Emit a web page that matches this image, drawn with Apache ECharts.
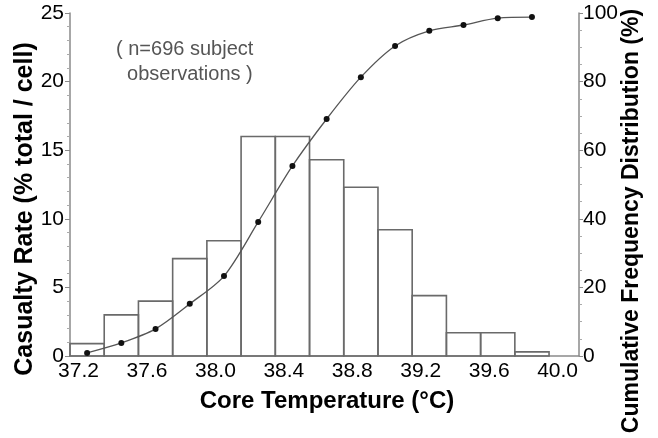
<!DOCTYPE html>
<html>
<head>
<meta charset="utf-8">
<script src="https://cdn.jsdelivr.net/npm/echarts@6/dist/echarts.min.js"></script>
<style>
html,body{margin:0;padding:0;background:#fff;}
#c{width:658px;height:438px;}
</style>
</head>
<body>
<div id="c"></div>
<script>
// Bin centres (°C), 0.2 °C wide bins
var binCenters = [37.25, 37.45, 37.65, 37.85, 38.05, 38.25, 38.45, 38.65, 38.85, 39.05, 39.25, 39.45, 39.65, 39.85];
// Casualty rate (% total / cell)
var casualtyRate = [0.9, 3.0, 4.0, 7.1, 8.4, 16.0, 16.0, 14.3, 12.3, 9.2, 4.4, 1.7, 1.7, 0.3];
// Cumulative frequency distribution (%)
var cumulative = [0.9, 3.8, 7.9, 15.2, 23.3, 39.1, 55.4, 69.1, 81.3, 90.4, 94.8, 96.5, 98.5, 98.8];
// Tick labels
var xTicks = [37.2, 37.6, 38.0, 38.4, 38.8, 39.2, 39.6, 40.0];
var binWidth = 0.2;

var FONT = 'Liberation Sans, Arial, Helvetica, sans-serif';
var chart = echarts.init(document.getElementById('c'), null, {renderer: 'canvas'});

var barData = binCenters.map(function (c, i) { return [c, casualtyRate[i]]; });
var lineData = binCenters.map(function (c, i) { return [c, cumulative[i]]; });

chart.setOption({
  animation: false,
  backgroundColor: '#fff',
  grid: {left: 70, right: 79, top: 13, bottom: 82, containLabel: false},
  xAxis: {
    type: 'value', min: 37.15, max: 40.125,
    axisLine: {show: true, lineStyle: {color: '#8a8a8a', width: 1.5}},
    axisTick: {show: false},
    splitLine: {show: false},
    axisLabel: {
      customValues: xTicks, margin: 5,
      color: '#000', fontSize: 21, fontFamily: FONT,
      formatter: function (v) { return v.toFixed(1); }
    }
  },
  yAxis: [{
    type: 'value', min: 0, max: 25, interval: 5, position: 'left',
    axisLine: {show: true, lineStyle: {color: '#8a8a8a', width: 1.5}},
    axisTick: {show: true, length: 5, lineStyle: {color: '#8a8a8a'}},
    minorTick: {show: true, splitNumber: 5, length: 3, lineStyle: {color: '#aaa'}},
    splitLine: {show: false},
    axisLabel: {color: '#000', fontSize: 21, fontFamily: FONT, margin: 6}
  }, {
    type: 'value', min: 0, max: 100, interval: 20, position: 'right',
    axisLine: {show: true, lineStyle: {color: '#8a8a8a', width: 1.5}},
    axisTick: {show: true, length: 4, lineStyle: {color: '#8a8a8a'}},
    minorTick: {show: true, splitNumber: 4, length: 3, lineStyle: {color: '#aaa'}},
    splitLine: {show: false},
    axisLabel: {color: '#000', fontSize: 21, fontFamily: FONT, margin: 4}
  }],
  series: [{
    type: 'custom',
    xAxisIndex: 0, yAxisIndex: 0,
    data: barData,
    renderItem: function (params, api) {
      var c = api.value(0), v = api.value(1);
      var p0 = api.coord([c - binWidth / 2, v]);
      var p1 = api.coord([c + binWidth / 2, 0]);
      return {
        type: 'rect',
        shape: {x: p0[0], y: p0[1], width: p1[0] - p0[0], height: p1[1] - p0[1]},
        style: {fill: 'rgba(255,255,255,0)', stroke: '#6a6a6a', lineWidth: 1.6}
      };
    },
    z: 2
  }, {
    type: 'line',
    xAxisIndex: 0, yAxisIndex: 1,
    data: lineData,
    smooth: 0.3,
    symbol: 'circle', symbolSize: 6,
    itemStyle: {color: '#111'},
    lineStyle: {color: '#555', width: 1.3},
    z: 3
  }],
  graphic: [{
    type: 'text', left: 116, top: 37,
    style: {
      text: '( n=696 subject\n  observations )',
      font: '20px ' + FONT, fill: '#555', lineHeight: 25
    }
  }, {
    type: 'text', x: 327, y: 401,
    style: {
      text: 'Core Temperature (°C)', font: 'bold 24px ' + FONT, fill: '#000',
      textAlign: 'center', textVerticalAlign: 'middle'
    }
  }, {
    type: 'text', x: 25, y: 209, rotation: Math.PI / 2,
    style: {
      text: 'Casualty Rate (% total / cell)', font: 'bold 25px ' + FONT, fill: '#000',
      textAlign: 'center', textVerticalAlign: 'middle'
    }
  }, {
    type: 'text', x: 632, y: 221, rotation: Math.PI / 2,
    style: {
      text: 'Cumulative Frequency Distribution (%)', font: 'bold 23px ' + FONT, fill: '#000',
      textAlign: 'center', textVerticalAlign: 'middle'
    }
  }]
});
</script>
</body>
</html>
